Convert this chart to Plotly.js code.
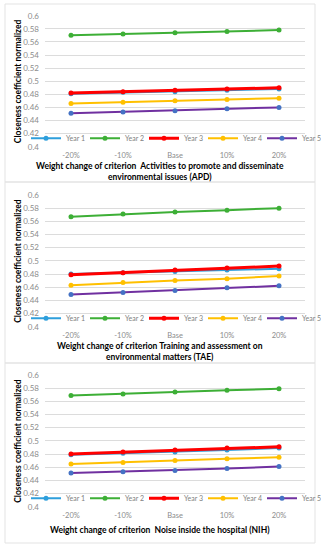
<!DOCTYPE html>
<html>
<head>
<meta charset="utf-8">
<script src="https://cdn.plot.ly/plotly-3.0.1.min.js"></script>
<style>
html,body{margin:0;padding:0;background:#fff;}
#chart{width:325px;height:550px;}
</style>
</head>
<body>
<div id="chart"></div>
<script>
const categories = ['-20%', '-10%', 'Base', '10%', '20%'];
const seriesNames = ['Year 1', 'Year 2', 'Year 3', 'Year 4', 'Year 5'];
const yTickValues = [0.4, 0.42, 0.44, 0.46, 0.48, 0.5, 0.52, 0.54, 0.56, 0.58, 0.6];
const yTickLabels = ['0.4', '0.42', '0.44', '0.46', '0.48', '0.5', '0.52', '0.54', '0.56', '0.58', '0.6'];

// Panel 1: APD
const apdYear1 = [0.481, 0.483, 0.484, 0.486, 0.488];
const apdYear2 = [0.570, 0.572, 0.574, 0.576, 0.578];
const apdYear3 = [0.482, 0.484, 0.486, 0.488, 0.490];
const apdYear4 = [0.466, 0.468, 0.470, 0.472, 0.474];
const apdYear5 = [0.451, 0.453, 0.455, 0.458, 0.460];

// Panel 2: TAE
const taeYear1 = [0.480, 0.482, 0.484, 0.486, 0.488];
const taeYear2 = [0.567, 0.571, 0.574, 0.577, 0.580];
const taeYear3 = [0.479, 0.482, 0.486, 0.489, 0.492];
const taeYear4 = [0.463, 0.467, 0.470, 0.473, 0.477];
const taeYear5 = [0.449, 0.452, 0.455, 0.459, 0.462];

// Panel 3: NIH
const nihYear1 = [0.479, 0.481, 0.483, 0.486, 0.489];
const nihYear2 = [0.569, 0.571, 0.574, 0.577, 0.579];
const nihYear3 = [0.480, 0.483, 0.486, 0.489, 0.491];
const nihYear4 = [0.465, 0.467, 0.470, 0.473, 0.475];
const nihYear5 = [0.451, 0.453, 0.455, 0.458, 0.461];

const xTitles = [
  'Weight change of criterion  Activities to promote and disseminate<br>environmental issues (APD)',
  'Weight change of criterion Training and assessment on<br>environmental matters (TAE)',
  'Weight change of criterion  Noise inside the hospital (NIH)'
];

const panels = [
  [apdYear1, apdYear2, apdYear3, apdYear4, apdYear5],
  [taeYear1, taeYear2, taeYear3, taeYear4, taeYear5],
  [nihYear1, nihYear2, nihYear3, nihYear4, nihYear5]
];

const lineColors = ['#2e9fdc', '#3daf36', '#ff0000', '#ffc000', '#7030a0'];
const markerColors = ['#2e9fdc', '#3daf36', '#ff0000', '#ffc000', '#4472c4'];
const lineWidths = [2, 2, 3, 2, 2];

const W = 325, H = 550;
const FONT = 'Lato, "Open Sans", sans-serif';
const plotBoxes = [[15.7, 146.7], [195, 326.7], [375, 506.7]];
const panelBoxes = [[4, 182], [182, 363], [363, 543]];
const xLeft = 45, xRight = 305;
const xTitleY = [[165.5, 176.5], [345.5, 357], [530]];

const traces = [];
const layout = {
  width: W, height: H,
  margin: {l: 0, r: 0, t: 0, b: 0},
  paper_bgcolor: '#ffffff',
  plot_bgcolor: 'rgba(0,0,0,0)',
  font: {family: FONT, size: 8, color: '#7f7f7f'},
  shapes: [], annotations: []
};

panels.forEach((series, p) => {
  const sfx = p === 0 ? '' : String(p + 1);
  const legendName = 'legend' + sfx;
  series.forEach((vals, i) => {
    traces.push({
      type: 'scatter', mode: 'lines+markers',
      x: categories, y: vals, name: seriesNames[i],
      xaxis: 'x' + sfx, yaxis: 'y' + sfx,
      legend: legendName,
      line: {color: lineColors[i], width: lineWidths[i]},
      marker: {color: markerColors[i], size: 5},
      showlegend: true
    });
  });
  const [top, bot] = plotBoxes[p];
  layout['xaxis' + sfx] = {
    domain: [xLeft / W, xRight / W], anchor: 'y' + sfx,
    type: 'category', range: [-0.5, 4.5],
    showgrid: false, zeroline: false, showline: false,
    ticks: '', tickfont: {family: FONT, size: 7.5, color: '#8c8c8c'},
    ticklabelstandoff: 3, fixedrange: true
  };
  layout['yaxis' + sfx] = {
    domain: [1 - bot / H, 1 - top / H], anchor: 'x' + sfx,
    range: [0.4, 0.6], tickvals: yTickValues, ticktext: yTickLabels,
    showgrid: true, gridcolor: '#dcdcdc', gridwidth: 1,
    zeroline: false, showline: false, ticks: '',
    tickfont: {family: FONT, size: 8, color: '#8c8c8c'},
    ticklabelstandoff: 5, fixedrange: true
  };
  layout[legendName] = {
    orientation: 'h', x: 26 / W, xanchor: 'left',
    y: 1 - (bot - 8.5) / H, yanchor: 'middle',
    bgcolor: 'rgba(0,0,0,0)', borderwidth: 0,
    font: {family: FONT, size: 7, color: '#7f7f7f'},
    itemwidth: 30, entrywidth: 14, tracegroupgap: 0,
    traceorder: 'normal'
  };
  const [bt, bb] = panelBoxes[p];
  layout.shapes.push({
    type: 'rect', xref: 'paper', yref: 'paper',
    x0: 5 / W, x1: 315 / W, y0: 1 - bb / H, y1: 1 - bt / H,
    line: {color: '#e3e3e3', width: 1}, fillcolor: 'rgba(0,0,0,0)'
  });
  layout.annotations.push({
    xref: 'paper', yref: 'paper', x: 18 / W, y: 1 - ((top + bot) / 2) / H,
    text: '<b>Closeness coefficient normalized</b>', textangle: -90,
    showarrow: false, xanchor: 'center', yanchor: 'middle',
    font: {family: FONT, size: 8.5, color: '#000000'}
  });
  const lines = xTitles[p].split('<br>');
  lines.forEach((ln, k) => {
    layout.annotations.push({
      xref: 'paper', yref: 'paper', x: 160 / W, y: 1 - xTitleY[p][k] / H,
      text: '<b>' + ln + '</b>', showarrow: false,
      xanchor: 'center', yanchor: 'middle',
      font: {family: FONT, size: 8.5, color: '#000000'}
    });
  });
});

Plotly.newPlot('chart', traces, layout, {displayModeBar: false, staticPlot: true});
</script>
</body>
</html>
